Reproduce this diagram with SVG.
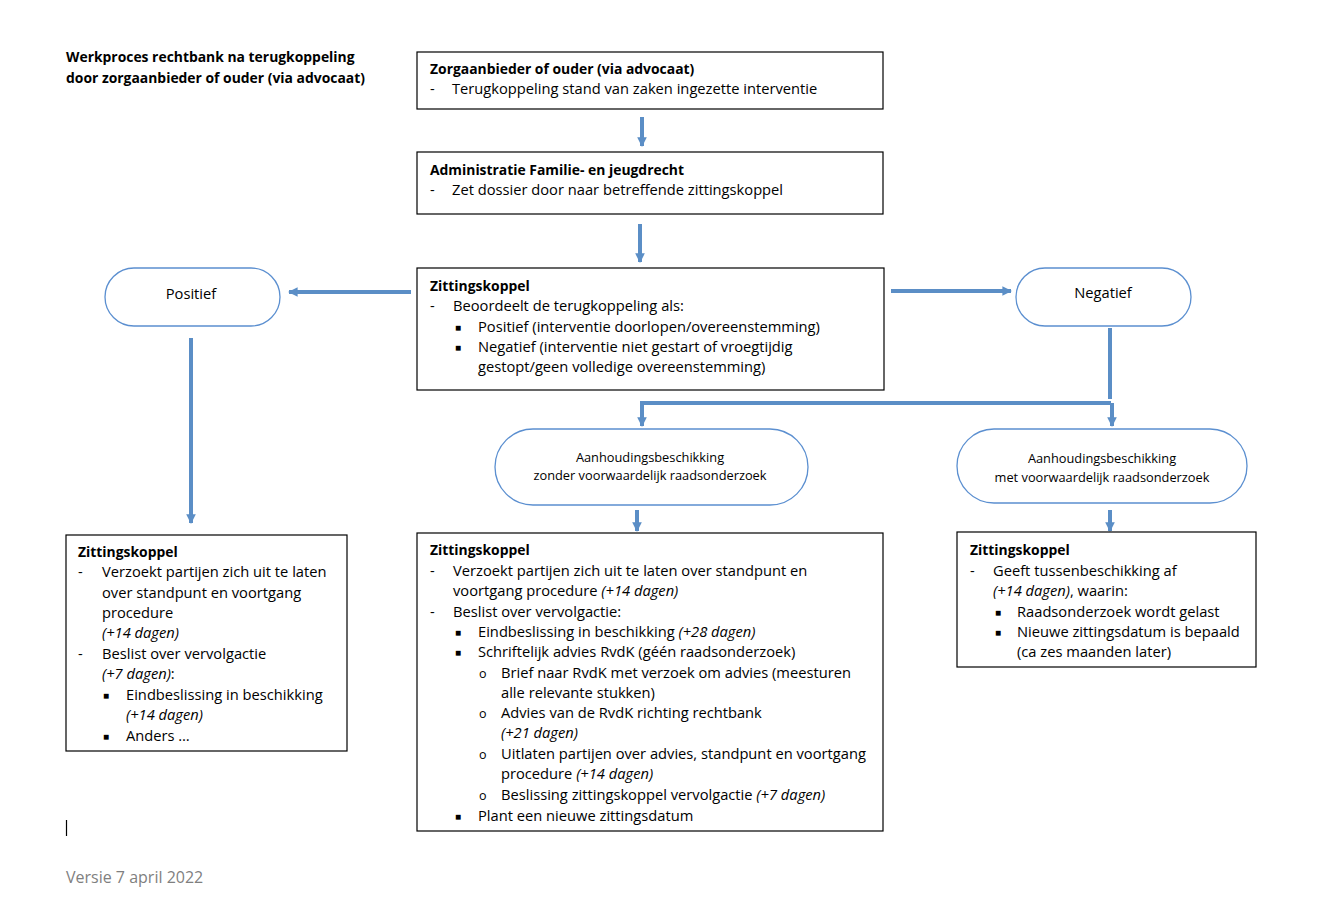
<svg xmlns="http://www.w3.org/2000/svg" width="1324" height="908" viewBox="0 0 1324 908">
<style>
text{font-family:"Open Sans","Liberation Sans",Arial,sans-serif;font-size:14.7px;fill:#000}
.t{font-weight:bold;font-size:13.9px}
.i{font-style:italic}
.h{font-weight:bold;font-size:13.9px}
.s{font-size:12.8px}
.b{font-size:10px}
.o{font-size:12.5px}
.box{fill:#fff;stroke:#000;stroke-width:1.2}
.pill{fill:#fff;stroke:#5b8fd0;stroke-width:1.3}
.c{stroke:#5b8ec6;stroke-width:4;fill:none}
.ftr{fill:#7f7f7f;font-size:16px}
</style>
<defs>
<marker id="ah" viewBox="0 0 10 10" refX="9" refY="5" markerWidth="2.4" markerHeight="2.4" orient="auto" markerUnits="strokeWidth">
<path d="M0,0 L10,5 L0,10 z" fill="#5b8ec6"/>
</marker>
</defs>
<rect width="1324" height="908" fill="#fff"/>
<g id="title">
<text class="h" x="66" y="62">Werkproces rechtbank na terugkoppeling</text>
<text class="h" x="66" y="83">door zorgaanbieder of ouder (via advocaat)</text>
</g>
<g id="connectors">
<line class="c" x1="642" y1="117" x2="642" y2="146" marker-end="url(#ah)"/>
<line class="c" x1="640" y1="224" x2="640" y2="262" marker-end="url(#ah)"/>
<line class="c" x1="411" y1="292" x2="289" y2="292" marker-end="url(#ah)"/>
<line class="c" x1="891" y1="291" x2="1011" y2="291" marker-end="url(#ah)"/>
<line class="c" x1="1110" y1="328" x2="1110" y2="399"/>
<polyline class="c" points="1111,403 642,403 642,426" marker-end="url(#ah)"/>
<line class="c" x1="1112" y1="403" x2="1112" y2="426" marker-end="url(#ah)"/>
<line class="c" x1="191" y1="338" x2="191" y2="523" marker-end="url(#ah)"/>
<line class="c" x1="637" y1="510" x2="637" y2="531" marker-end="url(#ah)"/>
<line class="c" x1="1110" y1="510" x2="1110" y2="531" marker-end="url(#ah)"/>
</g>
<g id="n1">
<rect class="box" x="417" y="52" width="466" height="57"/>
<text class="t" x="430" y="74">Zorgaanbieder of ouder (via advocaat)</text>
<text x="430" y="94">-</text><text x="452" y="94">Terugkoppeling stand van zaken ingezette interventie</text>
</g>
<g id="n2">
<rect class="box" x="417" y="152" width="466" height="62"/>
<text class="t" x="430" y="175">Administratie Familie- en jeugdrecht</text>
<text x="430" y="195">-</text><text x="452" y="195">Zet dossier door naar betreffende zittingskoppel</text>
</g>
<g id="n3">
<rect class="box" x="417" y="268" width="467" height="122"/>
<text class="t" x="430" y="291">Zittingskoppel</text>
<text x="430" y="311">-</text><text x="453" y="311">Beoordeelt de terugkoppeling als:</text>
<text class="b" x="455" y="331">■</text><text x="478" y="332">Positief (interventie doorlopen/overeenstemming)</text>
<text class="b" x="455" y="351">■</text><text x="478" y="352">Negatief (interventie niet gestart of vroegtijdig</text>
<text x="478" y="372">gestopt/geen volledige overeenstemming)</text>
</g>
<g id="positief">
<rect class="pill" x="105" y="268" width="175" height="58" rx="29"/>
<text x="191" y="299" text-anchor="middle">Positief</text>
</g>
<g id="negatief">
<rect class="pill" x="1016" y="268" width="175" height="58" rx="29"/>
<text x="1103" y="298" text-anchor="middle">Negatief</text>
</g>
<g id="aanh1">
<rect class="pill" x="495" y="429" width="313" height="76" rx="38"/>
<text class="s" x="650" y="462" text-anchor="middle">Aanhoudingsbeschikking</text>
<text class="s" x="650" y="480" text-anchor="middle">zonder voorwaardelijk raadsonderzoek</text>
</g>
<g id="aanh2">
<rect class="pill" x="957" y="429" width="290" height="74" rx="37"/>
<text class="s" x="1102" y="463" text-anchor="middle">Aanhoudingsbeschikking</text>
<text class="s" x="1102" y="482" text-anchor="middle">met voorwaardelijk raadsonderzoek</text>
</g>
<g id="n4">
<rect class="box" x="66" y="535" width="281" height="216"/>
<text class="t" x="78" y="557">Zittingskoppel</text>
<text x="78" y="577">-</text><text x="102" y="577">Verzoekt partijen zich uit te laten</text>
<text x="102" y="598">over standpunt en voortgang</text>
<text x="102" y="618">procedure</text>
<text class="i" x="102" y="638">(+14 dagen)</text>
<text x="78" y="659">-</text><text x="102" y="659">Beslist over vervolgactie</text>
<text x="102" y="679"><tspan class="i">(+7 dagen)</tspan>:</text>
<text class="b" x="103" y="699">■</text><text x="126" y="700">Eindbeslissing in beschikking</text>
<text class="i" x="126" y="720">(+14 dagen)</text>
<text class="b" x="103" y="740">■</text><text x="126" y="741">Anders …</text>
</g>
<g id="n5">
<rect class="box" x="417" y="533" width="466" height="298"/>
<text class="t" x="430" y="555">Zittingskoppel</text>
<text x="430" y="576">-</text><text x="453" y="576">Verzoekt partijen zich uit te laten over standpunt en</text>
<text x="453" y="596">voortgang procedure <tspan class="i">(+14 dagen)</tspan></text>
<text x="430" y="617">-</text><text x="453" y="617">Beslist over vervolgactie:</text>
<text class="b" x="455" y="636">■</text><text x="478" y="637">Eindbeslissing in beschikking <tspan class="i">(+28 dagen)</tspan></text>
<text class="b" x="455" y="656">■</text><text x="478" y="657">Schriftelijk advies RvdK (géén raadsonderzoek)</text>
<text class="o" x="479" y="678">o</text><text x="501" y="678">Brief naar RvdK met verzoek om advies (meesturen</text>
<text x="501" y="698">alle relevante stukken)</text>
<text class="o" x="479" y="718">o</text><text x="501" y="718">Advies van de RvdK richting rechtbank</text>
<text class="i" x="501" y="738">(+21 dagen)</text>
<text class="o" x="479" y="759">o</text><text x="501" y="759">Uitlaten partijen over advies, standpunt en voortgang</text>
<text x="501" y="779">procedure <tspan class="i">(+14 dagen)</tspan></text>
<text class="o" x="479" y="800">o</text><text x="501" y="800">Beslissing zittingskoppel vervolgactie <tspan class="i">(+7 dagen)</tspan></text>
<text class="b" x="455" y="820">■</text><text x="478" y="821">Plant een nieuwe zittingsdatum</text>
</g>
<g id="n6">
<rect class="box" x="957" y="532" width="299" height="135"/>
<text class="t" x="970" y="555">Zittingskoppel</text>
<text x="970" y="576">-</text><text x="993" y="576">Geeft tussenbeschikking af</text>
<text x="993" y="596"><tspan class="i">(+14 dagen)</tspan>, waarin:</text>
<text class="b" x="995" y="616">■</text><text x="1017" y="617">Raadsonderzoek wordt gelast</text>
<text class="b" x="995" y="636">■</text><text x="1017" y="637">Nieuwe zittingsdatum is bepaald</text>
<text x="1017" y="657">(ca zes maanden later)</text>
</g>
<g id="footer">
<line x1="66.5" y1="820" x2="66.5" y2="836" stroke="#000" stroke-width="1.2"/>
<text class="ftr" x="66" y="883">Versie 7 april 2022</text>
</g>
</svg>
